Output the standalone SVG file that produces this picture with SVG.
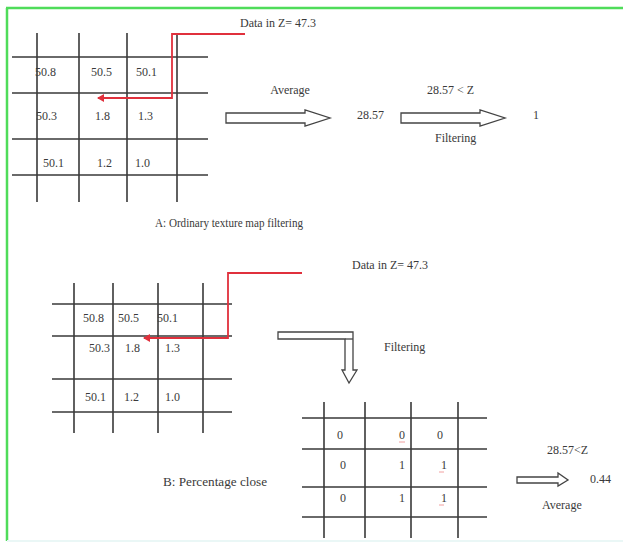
<svg xmlns="http://www.w3.org/2000/svg" width="623" height="542" viewBox="0 0 623 542">
<defs>
<style>
.g{stroke:#3a3a3a;stroke-width:1.6;fill:none}
.r{stroke:#e0303c;stroke-width:1.8;fill:none}
.ba{stroke:#444;stroke-width:1.3;fill:#fff;stroke-linejoin:miter}
text{font-family:"Liberation Serif","Times New Roman",serif;font-size:12px;fill:#3a3a3a}
</style>
<marker id="rh" markerWidth="8" markerHeight="8" refX="6" refY="4" orient="auto" markerUnits="userSpaceOnUse">
<path d="M0,0 L7,4 L0,8 Z" fill="#e0303c"/>
</marker>
</defs>
<rect x="0" y="0" width="623" height="542" fill="#fff"/>
<g id="frame">
<line x1="6" y1="8" x2="623" y2="8" stroke="#4fdc5a" stroke-width="2.5"/>
<line x1="7" y1="8" x2="7" y2="541" stroke="#4fdc5a" stroke-width="2.5"/>
<line x1="7" y1="541" x2="623" y2="541" stroke="#eaf7f6" stroke-width="2"/>
</g>
<g id="gridA">
<path class="g" d="M37,33V202M79,33V202M127,33V202M177,33V202M12,57H208M12,93H208M12,139H208M12,175H208"/>
<text x="35" y="76">50.8</text><text x="91" y="76">50.5</text><text x="136" y="76">50.1</text>
<text x="36" y="120">50.3</text><text x="95" y="120">1.8</text><text x="138" y="120">1.3</text>
<text x="43" y="167">50.1</text><text x="97" y="167">1.2</text><text x="135" y="167">1.0</text>
</g>
<g id="gridB">
<path class="g" d="M74,283V433M113,283V433M158,283V433M203,283V433M52,304H232M52,336H232M52,379H232M52,412H232"/>
<text x="83" y="322">50.8</text><text x="118" y="322">50.5</text><text x="157" y="322">50.1</text>
<text x="89" y="352">50.3</text><text x="125" y="352">1.8</text><text x="165" y="352">1.3</text>
<text x="85" y="401">50.1</text><text x="124" y="401">1.2</text><text x="165" y="401">1.0</text>
</g>
<g id="gridC">
<path class="g" d="M324,402V538M365,402V538M411,402V538M458,402V538M302,418H487M302,449H487M302,487H487M302,517H487"/>
<text x="337" y="439">0</text><text x="399" y="439">0</text><text x="437" y="439">0</text>
<text x="340" y="469">0</text><text x="399" y="469">1</text><text x="441" y="469">1</text>
<text x="340" y="502">0</text><text x="399" y="502">1</text><text x="441" y="502">1</text>
<path d="M399,442h6M439,472h5M439,505h5" stroke="#e88" stroke-width="0.8" fill="none"/>
</g>
<g id="connectors">
<polyline class="r" points="245,34 172,34 172,98 98,98" marker-end="url(#rh)"/>
<polyline class="r" points="302,273 228,273 228,338 144,338" marker-end="url(#rh)"/>
<path class="ba" d="M226,113H305V110L330,118L305,126V123H226Z"/>
<path class="ba" d="M401,113H480V110L505,118L480,126V123H401Z"/>
<path class="ba" d="M517,477H558V473L568,480L558,486V483H517Z"/>
<path class="ba" d="M278,332H353V370H357L349,383L342,370H345V339H278Z"/>
<path d="M345,339H353" stroke="#444" stroke-width="1.3"/>
</g>
<g id="labels">
<text x="240" y="27">Data in Z= 47.3</text>
<text x="290" y="94" text-anchor="middle">Average</text>
<text x="357" y="119">28.57</text>
<text x="427" y="94">28.57 &lt; Z</text>
<text x="435" y="142">Filtering</text>
<text x="533" y="119">1</text>
<text x="155" y="227" textLength="148" lengthAdjust="spacingAndGlyphs">A: Ordinary texture map filtering</text>
<text x="352" y="269">Data in Z= 47.3</text>
<text x="384" y="351">Filtering</text>
<text x="163" y="486" textLength="104" lengthAdjust="spacingAndGlyphs">B: Percentage close</text>
<text x="547" y="454">28.57&lt;Z</text>
<text x="590" y="483">0.44</text>
<text x="542" y="509">Average</text>
</g>
</svg>
